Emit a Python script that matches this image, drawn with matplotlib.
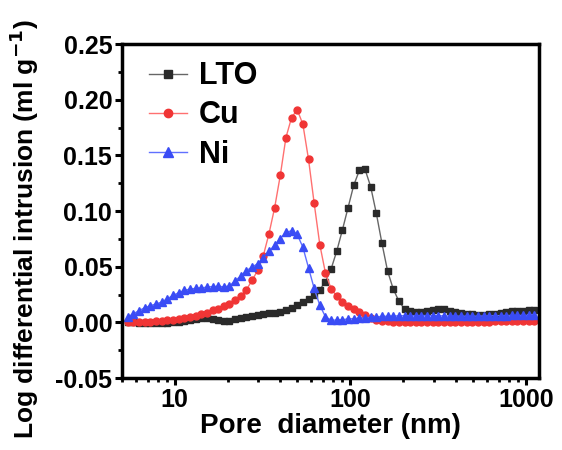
import numpy as np
import matplotlib
matplotlib.use('Agg')
import matplotlib.pyplot as plt
from matplotlib.ticker import LogLocator, NullFormatter, MultipleLocator, FormatStrFormatter

plt.rcParams['font.family'] = ['Liberation Sans', 'DejaVu Sans']
plt.rcParams['font.weight'] = 'bold'
plt.rcParams['axes.unicode_minus'] = False

# pore diameter (nm), shared by the three samples
diameter = [5.40, 5.81, 6.26, 6.74, 7.26, 7.82, 8.42, 9.07, 9.77, 10.52,
            11.33, 12.20, 13.14, 14.15, 15.24, 16.41, 17.67, 19.03, 20.50, 22.07,
            23.77, 25.60, 27.57, 29.69, 31.97, 34.43, 37.08, 39.93, 43.00, 46.31,
            49.87, 53.71, 57.84, 62.29, 67.08, 72.24, 77.80, 83.78, 90.22, 97.16,
            104.6, 112.7, 121.4, 130.7, 140.8, 151.6, 163.3, 175.8, 189.3, 203.9,
            219.6, 236.5, 254.7, 274.3, 295.4, 318.1, 342.6, 368.9, 397.3, 427.8,
            460.7, 496.2, 534.3, 575.4, 619.7, 667.3, 718.7, 774.0, 833.5, 897.6,
            966.6, 1041, 1121]

lto = [0.0000, 0.0000, -0.0003, -0.0005, -0.0005, -0.0005, -0.0004, -0.0002, 0.0000, 0.0002,
       0.0009, 0.0018, 0.0030, 0.0038, 0.0039, 0.0030, 0.0018, 0.0009, 0.0014, 0.0028,
       0.0040, 0.0050, 0.0057, 0.0065, 0.0074, 0.0082, 0.0088, 0.0097, 0.0112, 0.0130,
       0.0155, 0.0180, 0.0210, 0.0245, 0.0295, 0.0365, 0.0480, 0.0640, 0.0830, 0.1030,
       0.1230, 0.1365, 0.1375, 0.1220, 0.0980, 0.0710, 0.0460, 0.0300, 0.0190, 0.0120,
       0.0098, 0.0093, 0.0095, 0.0105, 0.0115, 0.0120, 0.0118, 0.0105, 0.0092, 0.0082,
       0.0077, 0.0072, 0.0069, 0.0069, 0.0071, 0.0076, 0.0085, 0.0093, 0.0098, 0.0102,
       0.0105, 0.0108, 0.0115]

cu = [0.0000, 0.0001, 0.0002, 0.0003, 0.0006, 0.0009, 0.0012, 0.0018, 0.0024, 0.0030,
      0.0039, 0.0048, 0.0060, 0.0072, 0.0087, 0.0108, 0.0123, 0.0144, 0.0168, 0.0198,
      0.0234, 0.0293, 0.0377, 0.0467, 0.0600, 0.0797, 0.1030, 0.1320, 0.1660, 0.1840,
      0.1910, 0.1780, 0.1465, 0.1070, 0.0698, 0.0443, 0.0303, 0.0234, 0.0183, 0.0147,
      0.0123, 0.0093, 0.0063, 0.0035, 0.0020, 0.0012, 0.0008, 0.0006, 0.0005, 0.0004,
      0.0004, 0.0004, 0.0004, 0.0004, 0.0004, 0.0004, 0.0004, 0.0004, 0.0004, 0.0004,
      0.0005, 0.0005, 0.0005, 0.0006, 0.0007, 0.0009, 0.0011, 0.0013, 0.0015, 0.0016,
      0.0016, 0.0015, 0.0014]

ni = [0.0048, 0.0078, 0.0105, 0.0132, 0.0150, 0.0165, 0.0182, 0.0212, 0.0242, 0.0266,
      0.0287, 0.0299, 0.0305, 0.0310, 0.0316, 0.0322, 0.0323, 0.0320, 0.0326, 0.0375,
      0.0415, 0.0465, 0.0497, 0.0527, 0.0580, 0.0640, 0.0692, 0.0752, 0.0810, 0.0822,
      0.0790, 0.0675, 0.0490, 0.0305, 0.0153, 0.0050, 0.0020, 0.0020, 0.0025, 0.0030,
      0.0033, 0.0037, 0.0040, 0.0045, 0.0050, 0.0053, 0.0055, 0.0057, 0.0058, 0.0060,
      0.0060, 0.0060, 0.0061, 0.0061, 0.0060, 0.0059, 0.0058, 0.0057, 0.0056, 0.0056,
      0.0055, 0.0055, 0.0056, 0.0057, 0.0058, 0.0059, 0.0060, 0.0061, 0.0062, 0.0062,
      0.0062, 0.0063, 0.0063]

fig = plt.figure(figsize=(5.62, 4.5), dpi=100)
ax = fig.add_axes([0.217, 0.16, 0.742, 0.742])

l1, = ax.plot(diameter, lto, '-s', color='#666666', lw=1, ms=5, mfc='#2a2a2a', mec='#2a2a2a', label='LTO')
l2, = ax.plot(diameter, cu, '-o', color='#ff7070', lw=1, ms=5, mfc='#f03535', mec='#f03535', label='Cu')
l3, = ax.plot(diameter, ni, '-^', color='#6070ff', lw=1, ms=5.5, mfc='#3a4cf5', mec='#3a4cf5', label='Ni')

ax.set_xscale('log')
ax.set_xlim(5, 1190)
ax.set_ylim(-0.05, 0.25)
ax.set_xticks([10, 100, 1000])
ax.set_xticklabels(['10', '100', '1000'])
ax.xaxis.set_minor_locator(LogLocator(base=10, subs=np.arange(2, 10)))
ax.xaxis.set_minor_formatter(NullFormatter())
ax.yaxis.set_major_locator(MultipleLocator(0.05))
ax.yaxis.set_minor_locator(MultipleLocator(0.025))
ax.yaxis.set_major_formatter(FormatStrFormatter('%.2f'))

for s in ax.spines.values():
    s.set_linewidth(2.5)
ax.tick_params(which='major', direction='out', length=5, width=2.2, labelsize=18, pad=2)
ax.tick_params(which='minor', direction='out', length=3, width=2)

ax.set_xlabel('Pore  diameter (nm)', fontsize=20, fontweight='bold', labelpad=1)
ax.set_ylabel('Log differential intrusion (ml g$^{\\mathbf{-1}}$)', fontsize=19, fontweight='bold')
ax.yaxis.set_label_coords(-0.195, 0.445)

ax.legend(handles=[l1, l2, l3], loc='upper left', bbox_to_anchor=(0.035, 0.985), frameon=False,
          prop={'size': 22, 'weight': 'bold'}, handlelength=1.25, handletextpad=0.4,
          labelspacing=0.3, borderaxespad=0, markerscale=1.2)

fig.savefig('out.png', dpi=100)
